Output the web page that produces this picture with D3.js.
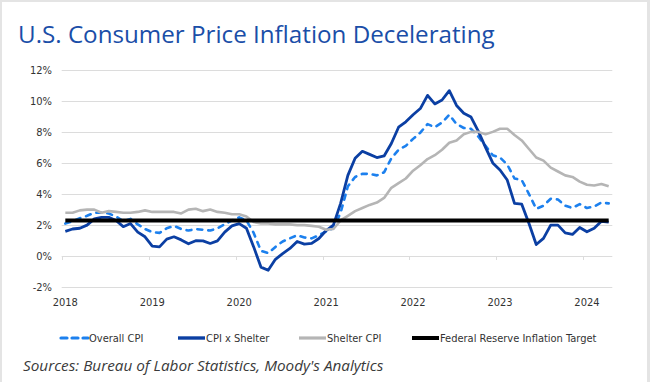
<!DOCTYPE html>
<html>
<head>
<meta charset="utf-8">
<script src="https://cdn.jsdelivr.net/npm/d3@7"></script>
<style>
  html, body { margin: 0; padding: 0; background: #e4e4e4; }
  svg { display: block; }
</style>
</head>
<body>
<svg id="chart" width="650" height="382"></svg>
<script>
// monthly y/y % change, Jan 2018 .. Apr 2024
const months = d3.timeMonth.range(new Date(2018, 0, 1), new Date(2024, 4, 1));
const yTicks = [-2, 0, 2, 4, 6, 8, 10, 12];

const overallCPI = [
  2.1, 2.25, 2.45, 2.6, 2.8, 2.8, 2.75, 2.55, 2.25, 2.4, 2.05, 1.75,
  1.55, 1.5, 1.8, 1.95, 1.75, 1.65, 1.75, 1.7, 1.65, 1.8, 2.05, 2.3,
  2.5, 2.3, 1.5, 0.35, 0.2, 0.6, 0.95, 1.15, 1.35, 1.2, 1.15, 1.35,
  1.6, 1.8, 2.8, 4.5, 5.1, 5.3, 5.3, 5.2, 5.4, 6.3, 6.85, 7.1,
  7.55, 7.95, 8.5, 8.3, 8.6, 9.1, 8.5, 8.25, 8.2, 7.7, 7.1, 6.5,
  6.35, 5.9, 5.0, 4.9, 4.0, 3.05, 3.25, 3.7, 3.65, 3.25, 3.1, 3.35,
  3.1, 3.2, 3.45, 3.4
];
const cpiExShelter = [
  1.6, 1.75, 1.8, 2.0, 2.4, 2.5, 2.5, 2.3, 1.9, 2.1, 1.55, 1.25,
  0.65, 0.6, 1.1, 1.25, 1.05, 0.8, 1.0, 0.99, 0.82, 0.99, 1.55, 1.95,
  2.1, 1.8, 0.6, -0.7, -0.9, -0.2, 0.17, 0.5, 0.95, 0.78, 0.82, 1.14,
  1.65, 2.0, 3.4, 5.2, 6.3, 6.75, 6.55, 6.35, 6.45, 7.25, 8.3, 8.65,
  9.1, 9.5, 10.35, 9.8, 10.05, 10.65, 9.7, 9.2, 8.95, 8.05, 7.0, 6.0,
  5.55, 4.9, 3.4, 3.35, 2.1, 0.75, 1.15, 2.0, 2.0, 1.5, 1.4, 1.85,
  1.57, 1.8, 2.25, 2.2
];
const shelterCPI = [
  2.8, 2.8, 2.95, 3.0, 3.0, 2.8, 2.9, 2.85, 2.8, 2.8, 2.85, 2.95,
  2.85, 2.85, 2.85, 2.85, 2.75, 3.0, 3.05, 2.9, 3.0, 2.85, 2.8, 2.7,
  2.7, 2.55, 2.2, 2.1, 2.1, 2.05, 2.05, 2.05, 2.0, 2.0, 1.95, 1.9,
  1.7, 1.75, 2.3, 2.6, 2.9, 3.1, 3.3, 3.45, 3.75, 4.4, 4.7, 5.0,
  5.5, 5.85, 6.25, 6.5, 6.85, 7.3, 7.45, 7.85, 8.0, 8.0, 7.85, 8.0,
  8.2, 8.2, 7.8, 7.45, 6.9, 6.35, 6.15, 5.7, 5.45, 5.2, 5.1, 4.8,
  4.6, 4.55, 4.65, 4.5
];
const fedTarget = 2.3;

const series = [
  { name: 'Overall CPI', values: overallCPI, color: '#1c80ee', width: 2.6, dash: '5,6' },
  { name: 'CPI x Shelter', values: cpiExShelter, color: '#0b3fa3', width: 2.8 },
  { name: 'Shelter CPI', values: shelterCPI, color: '#b5b5b5', width: 2.6 },
  { name: 'Federal Reserve Inflation Target', values: months.map(() => fedTarget), color: '#000000', width: 4 }
];

const svg = d3.select('#chart');
const labelFont = '"Liberation Sans Narrow", "DejaVu Sans Condensed", Roboto, sans-serif';

// card
svg.append('rect')
  .attr('x', 2).attr('y', 2).attr('width', 645).attr('height', 380)
  .attr('fill', '#ffffff');

svg.append('text')
  .attr('x', 18).attr('y', 43)
  .style('font-family', '"Open Sans", sans-serif')
  .style('font-size', '24.2px')
  .style('fill', '#1a4ea8')
  .text('U.S. Consumer Price Inflation Decelerating');

const plot = { left: 61.7, right: 612.3, top: 69.7, bottom: 287.3 };

const x = d3.scaleBand()
  .domain(months)
  .range([plot.left, plot.right])
  .paddingInner(0).paddingOuter(0);
const cx = d => x(d) + x.bandwidth() / 2;

const y = d3.scaleLinear()
  .domain([-2, 12])
  .range([plot.bottom, plot.top]);

// gridlines
svg.append('g')
  .selectAll('line')
  .data(yTicks)
  .join('line')
  .attr('x1', plot.left).attr('x2', plot.right)
  .attr('y1', d => Math.round(y(d)) + 0.5).attr('y2', d => Math.round(y(d)) + 0.5)
  .attr('stroke', '#dcdcdc')
  .attr('stroke-width', 1);

// y axis labels
const yAxis = d3.axisLeft(y)
  .tickValues(yTicks)
  .tickSize(0)
  .tickPadding(0)
  .tickFormat(d => d + '%');
svg.append('g')
  .attr('transform', 'translate(52,0)')
  .call(yAxis)
  .call(g => g.select('.domain').remove())
  .selectAll('text')
  .style('font-family', labelFont)
  .style('font-size', '11px')
  .style('fill', '#333333');

// year tick marks hang from the 0% line
const januaries = months.filter(d => d.getMonth() === 0);
svg.append('g')
  .selectAll('line')
  .data(januaries)
  .join('line')
  .attr('x1', d => Math.round(x(d)) + 0.5).attr('x2', d => Math.round(x(d)) + 0.5)
  .attr('y1', Math.round(y(0))).attr('y2', Math.round(y(0)) + 4)
  .attr('stroke', '#dcdcdc');

// year labels below the plot
const xAxis = d3.axisBottom(x)
  .tickValues(januaries)
  .tickSize(0)
  .tickPadding(0)
  .tickFormat(d3.timeFormat('%Y'));
svg.append('g')
  .attr('transform', 'translate(0,298)')
  .call(xAxis)
  .call(g => g.select('.domain').remove())
  .selectAll('text')
  .style('font-family', labelFont)
  .style('font-size', '11px')
  .style('fill', '#333333');

// lines
const line = d3.line()
  .x((d, i) => cx(months[i]))
  .y(d => y(d));

svg.append('g')
  .selectAll('path')
  .data(series)
  .join('path')
  .attr('d', d => line(d.values))
  .attr('fill', 'none')
  .attr('stroke', d => d.color)
  .attr('stroke-width', d => d.width)
  .attr('stroke-dasharray', d => d.dash || null)
  .attr('stroke-linecap', d => d.dash ? 'round' : 'butt')
  .attr('stroke-linejoin', 'round');

// legend
const legendX = [59, 176, 297, 410];
const legend = svg.append('g')
  .selectAll('g')
  .data(series)
  .join('g')
  .attr('transform', (d, i) => `translate(${legendX[i]},338)`);
legend.append('line')
  .attr('x1', 2).attr('x2', 29).attr('y1', 0).attr('y2', 0)
  .attr('stroke', d => d.color)
  .attr('stroke-width', d => Math.min(d.width + 0.6, 4))
  .attr('stroke-dasharray', d => d.dash ? '6,5' : null)
  .attr('stroke-linecap', d => d.dash ? 'round' : 'butt');
legend.append('text')
  .attr('x', 30).attr('y', 4)
  .style('font-family', labelFont)
  .style('font-size', '11px')
  .style('fill', '#333333')
  .text(d => d.name);

svg.append('text')
  .attr('x', 23).attr('y', 371)
  .style('font-family', '"Open Sans", sans-serif')
  .style('font-style', 'italic')
  .style('font-size', '15.3px')
  .style('fill', '#3a3a3a')
  .text("Sources: Bureau of Labor Statistics, Moody's Analytics");
</script>
</body>
</html>
